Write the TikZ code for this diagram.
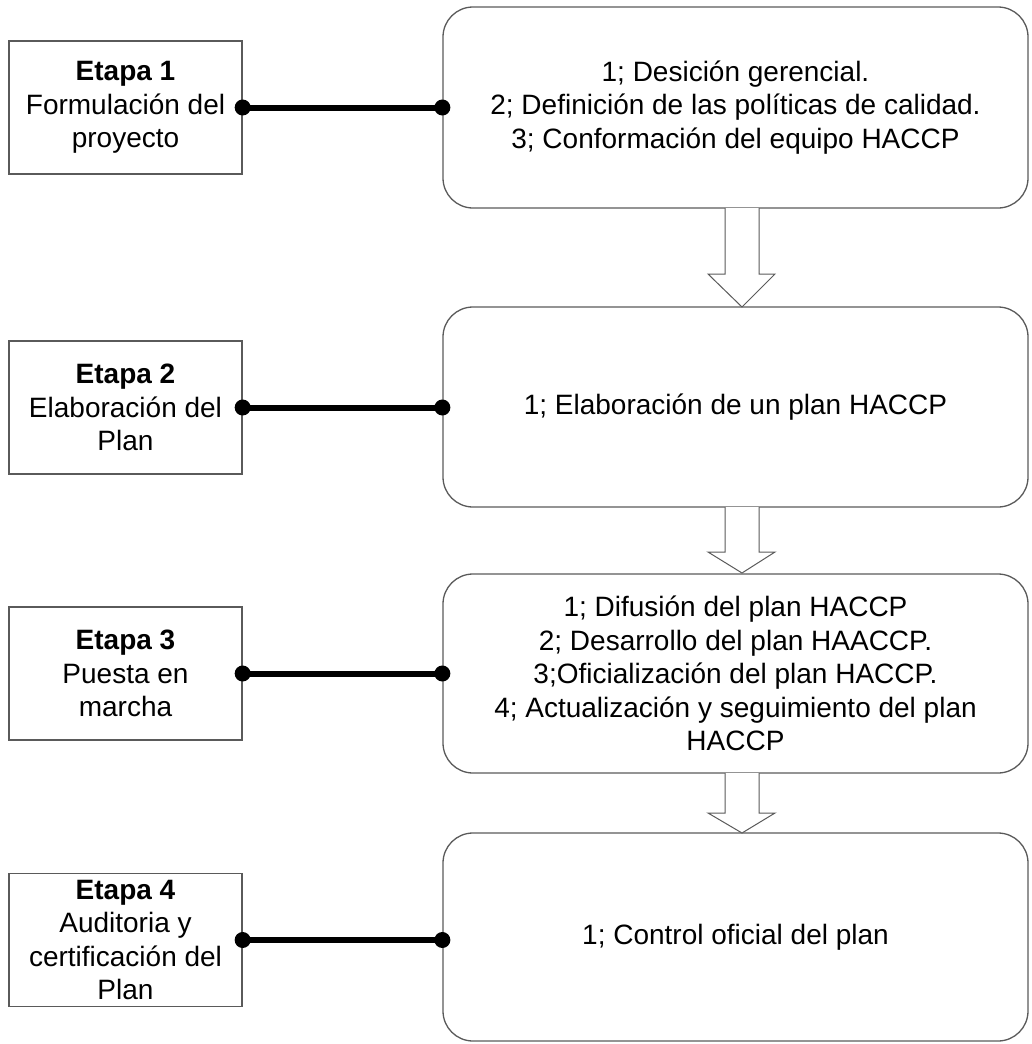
\documentclass[tikz,border=0pt]{standalone}
\usepackage{fontspec}
\setmainfont{Liberation Sans}
\definecolor{boxgray}{HTML}{5A5A5A}
\begin{document}
\begin{tikzpicture}[x=1pt,y=-1pt,
  txt/.style={align=center, font=\fontsize{28}{33.5}\selectfont, inner sep=0pt},
  stage/.style={txt, draw=boxgray, line width=1.3pt, minimum width=233pt, minimum height=133pt},
  panel/.style={txt, draw=boxgray, line width=1.3pt, rounded corners=30pt, minimum width=585pt},
  link/.style={line width=6pt},
  arrowline/.style={draw=boxgray, line width=1pt, fill=white, line join=miter},
  pics/barrow/.style args={#1/#2}{code={
    \draw[arrowline] (-17,0) -- (-17,#1) -- (-34,#1) -- (0,#2) -- (33,#1) -- (17,#1) -- (17,0);}}
]
\useasboundingbox (0,0) rectangle (1031,1044);

% right panels
\node[panel, minimum height=201pt] (r1) at (735.5,107.5)
  {1; Desición gerencial.\\2; Definición de las políticas de calidad.\\3; Conformación del equipo HACCP};
\node[panel, minimum height=200pt] (r2) at (735.5,407)
  {1; Elaboración de un plan HACCP};
\node[panel, minimum height=199pt] (r3) at (735.5,673.5)
  {1; Difusión del plan HACCP\\2; Desarrollo del plan HAACCP.\\3;Oficialización del plan HACCP.\\4; Actualización y seguimiento del plan\\HACCP};
\node[panel, minimum height=208pt] (r4) at (735.5,937)
  {1; Control oficial del plan};

% left stages
\node[stage] (l1) at (125.5,107.5) {\textbf{Etapa 1}\\Formulación del\\proyecto};
\node[stage] (l2) at (125.5,407.5) {\textbf{Etapa 2}\\Elaboración del\\Plan};
\node[stage] (l3) at (125.5,673.5) {\textbf{Etapa 3}\\Puesta en\\marcha};
\node[stage] (l4) at (125.5,940) {\textbf{Etapa 4}\\Auditoria y\\certificación del\\Plan};

% block arrows
\pic at (742,208) {barrow=66/99};
\pic at (742,507) {barrow=45/66};
\pic at (742,773) {barrow=40/60};

% connectors
\foreach \i in {1,2,3,4}{
  \draw[link] (l\i.east) -- (r\i.west |- l\i.east);
  \fill (l\i.east) circle[radius=8pt];
  \fill (r\i.west |- l\i.east) circle[radius=8pt];
}
\end{tikzpicture}
\end{document}
